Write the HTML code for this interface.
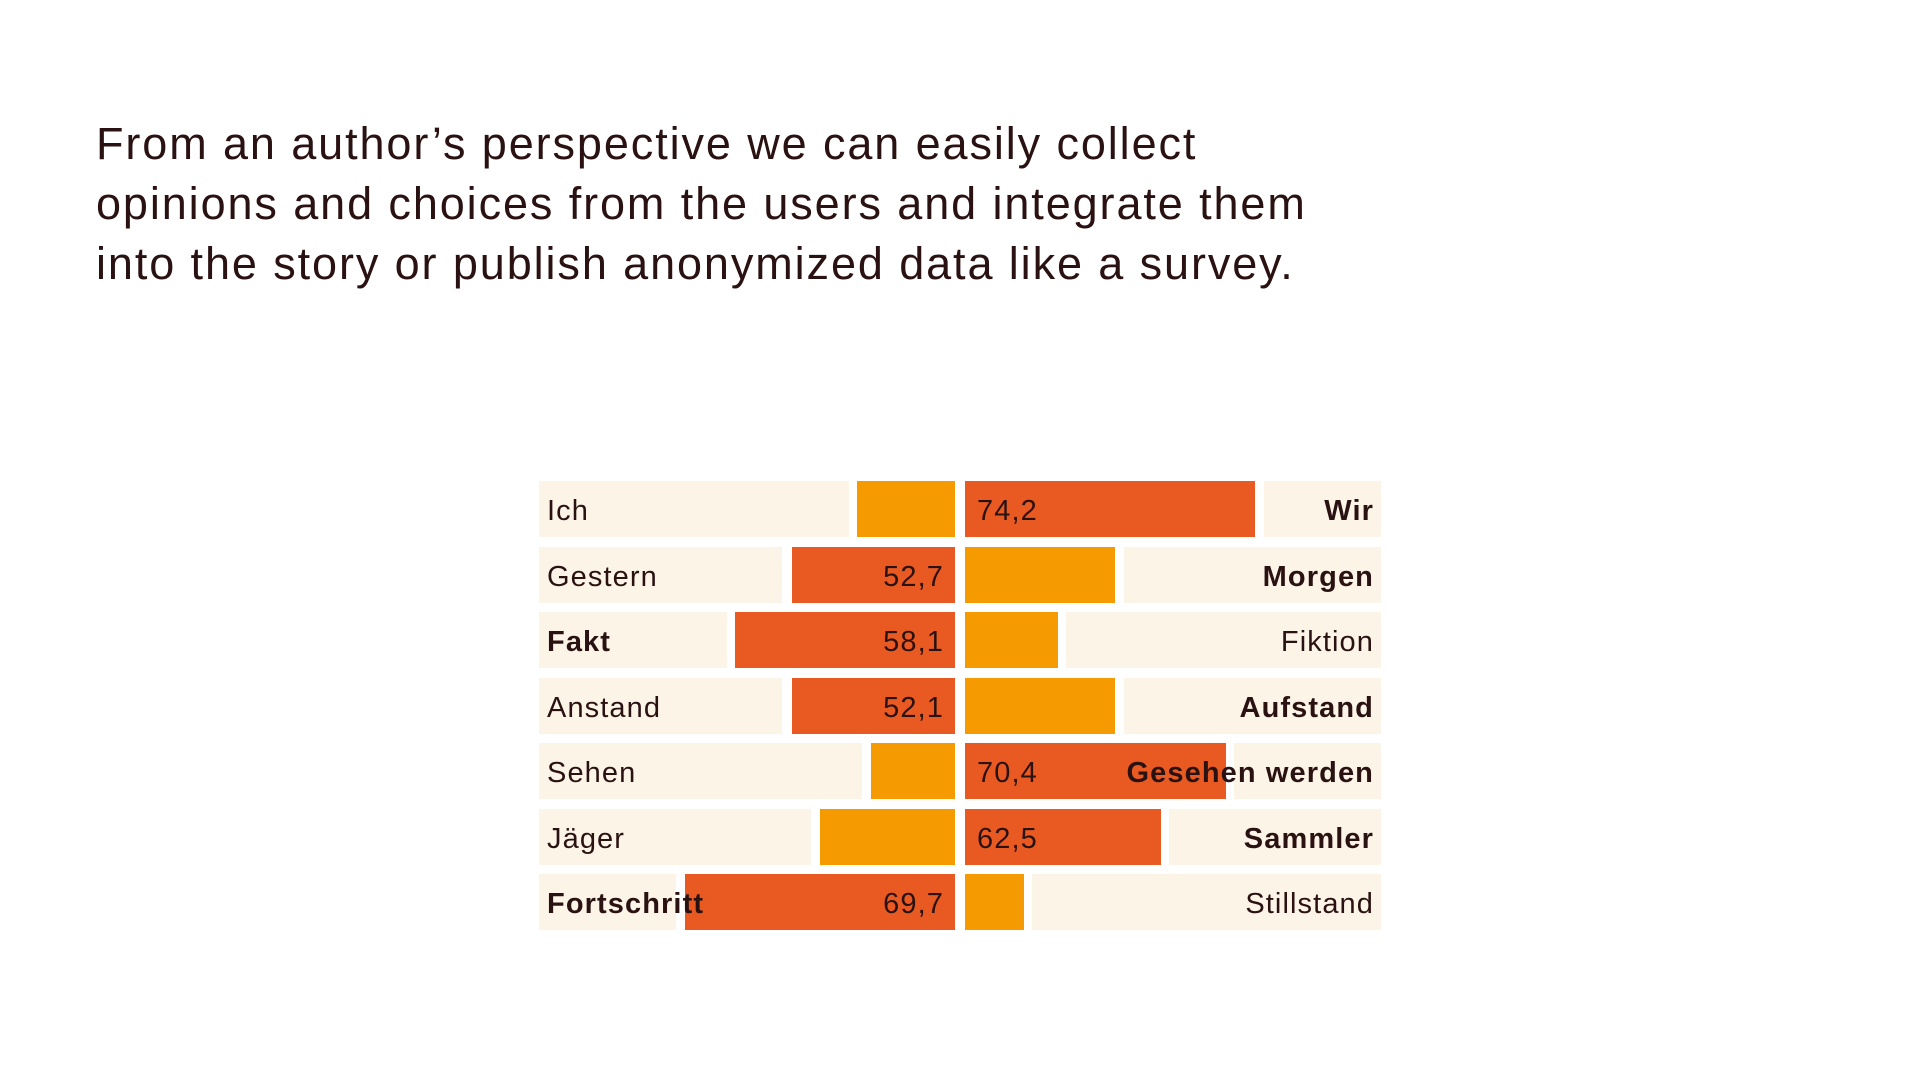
<!DOCTYPE html>
<html><head><meta charset="utf-8"><style>
html,body{margin:0;padding:0;background:#fff;width:1920px;height:1080px;overflow:hidden}
body{position:relative;font-family:"Liberation Sans",sans-serif;color:#2b1212}
.t{position:absolute;left:96px;top:114px;font-size:45px;line-height:60px;letter-spacing:1.9px}
.r{position:absolute;height:56px}
.bg{background:#fbf4e7}.o{background:#f59a00}.d{background:#e85a22}
.l{position:absolute;font-size:29px;line-height:60px;white-space:nowrap;z-index:2;letter-spacing:1.1px}
.b{font-weight:bold}
</style></head><body>
<div class="t">From an author’s perspective we can easily collect<br>opinions and choices from the users and integrate them<br>into the story or publish anonymized data like a survey.</div>
<div id="c"></div>
<script>
var rows=[
["Ich",0,"Wir",1,849,857,"o",1255,"d",1264,"74,2","r"],
["Gestern",0,"Morgen",1,782,792,"d",1115,"o",1124,"52,7","l"],
["Fakt",1,"Fiktion",0,727,735,"d",1058,"o",1066,"58,1","l"],
["Anstand",0,"Aufstand",1,782,792,"d",1115,"o",1124,"52,1","l"],
["Sehen",0,"Gesehen werden",1,862,871,"o",1226,"d",1234,"70,4","r"],
["Jäger",0,"Sammler",1,811,820,"o",1161,"d",1169,"62,5","r"],
["Fortschritt",1,"Stillstand",0,676,685,"d",1024,"o",1032,"69,7","l"]];
var h="";
rows.forEach(function(r,i){
 var top=481+i*65.5;
 function box(x1,x2,c){h+='<div class="r '+c+'" style="top:'+top+'px;left:'+x1+'px;width:'+(x2-x1)+'px"></div>';}
 box(539,r[4],"bg");box(r[5],955,r[6]);box(965,r[7],r[8]);box(r[9],1381,"bg");
 h+='<div class="l'+(r[1]?' b':'')+'" style="top:'+top+'px;left:547px">'+r[0]+'</div>';
 h+='<div class="l'+(r[3]?' b':'')+'" style="top:'+top+'px;right:546px">'+r[2]+'</div>';
 if(r[11]=="r")h+='<div class="l" style="top:'+top+'px;left:977px">'+r[10]+'</div>';
 else h+='<div class="l" style="top:'+top+'px;right:976px">'+r[10]+'</div>';
});
document.getElementById("c").innerHTML=h;
</script>
</body></html>
